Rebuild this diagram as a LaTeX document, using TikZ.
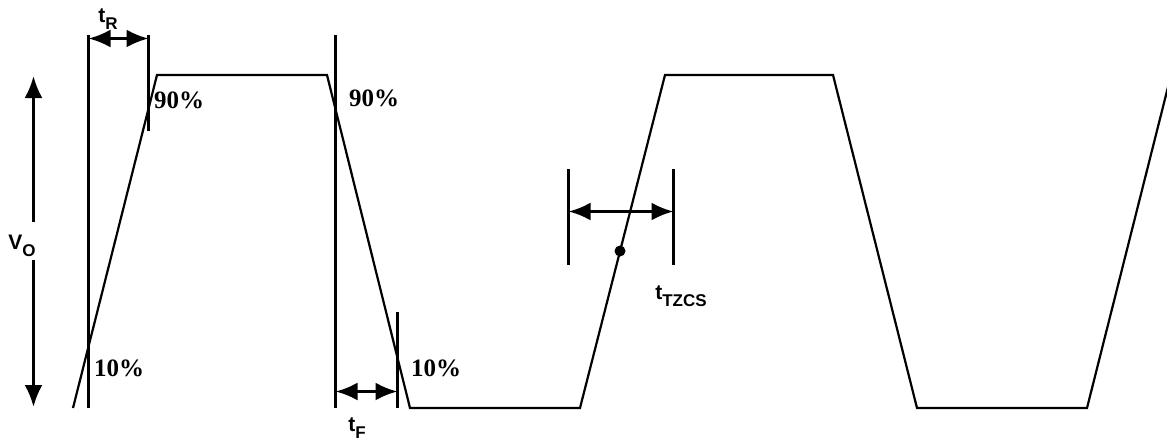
\documentclass[tikz,border=0pt]{standalone}
\usepackage{fontspec}
\setmainfont{Liberation Serif}
\setsansfont{Liberation Sans}
\usetikzlibrary{arrows.meta}

% symbol with a lowered subscript
\newcommand{\symsub}[2]{#1\raisebox{-0.32em}{\fontsize{17}{19}\selectfont #2}}

\begin{document}
\begin{tikzpicture}[
  x=1pt, y=-1pt,
  wave/.style={line width=2.2pt, line join=miter},
  marker/.style={line width=3pt},
  dim/.style={<->, >={Latex[length=22pt,width=18pt]}, line width=3pt},
  tip/.style={->, >={Latex[length=22pt,width=18pt]}, line width=3pt},
  pct/.style={font=\fontsize{25}{27}\selectfont\bfseries, inner sep=0pt},
  sym/.style={font=\fontsize{21}{23}\selectfont\sffamily\bfseries, inner sep=0pt}
]
  \useasboundingbox (0,0) rectangle (1167,444);
  % Output waveform
  \draw[wave] (73,408) -- (157,75) -- (327,75) -- (410,408) -- (580,408)
    -- (665,75) -- (833,75) -- (917,408) -- (1087,408) -- (1168,87);
  % Amplitude arrow
  \node[sym] (vo) at (22,246) {\symsub{V}{O}};
  \coordinate (voA) at (33.5,222);
  \coordinate (voB) at (33.5,260);
  \coordinate (votop) at (33.5,76);
  \coordinate (vobot) at (33.5,407);
  \draw[tip] (voA) -- (votop);
  \draw[tip] (voB) -- (vobot);
  % Rise time markers
  \coordinate (r1top) at (88.5,35);   \coordinate (r1bot) at (88.5,408);
  \coordinate (r2top) at (148.5,35);  \coordinate (r2bot) at (148.5,131);
  \draw[marker] (r1top) -- (r1bot);
  \draw[marker] (r2top) -- (r2bot);
  \coordinate (trL) at (88.5,38.5);  \coordinate (trR) at (148.5,38.5);
  \draw[dim] (trL) -- (trR);
  \node[sym] (tr) at (108,19) {\symsub{t}{R}};
  \node[pct] (p90a) at (179,100) {90\%};
  \node[pct] (p10a) at (119,368) {10\%};
  % Fall time markers
  \coordinate (f1top) at (335.5,35);  \coordinate (f1bot) at (335.5,408);
  \coordinate (f2top) at (397.5,312); \coordinate (f2bot) at (397.5,408);
  \draw[marker] (f1top) -- (f1bot);
  \draw[marker] (f2top) -- (f2bot);
  \coordinate (tfL) at (335.5,391.5);  \coordinate (tfR) at (397.5,391.5);
  \draw[dim] (tfL) -- (tfR);
  \node[sym] (tf) at (357,428) {\symsub{t}{F}};
  \node[pct] (p90b) at (374,98) {90\%};
  \node[pct] (p10b) at (436,368) {10\%};
  % Zero crossing markers
  \coordinate (z1top) at (568.5,169);  \coordinate (z1bot) at (568.5,265);
  \coordinate (z2top) at (673.5,169);  \coordinate (z2bot) at (673.5,265);
  \draw[marker] (z1top) -- (z1bot);
  \draw[marker] (z2top) -- (z2bot);
  \coordinate (tzL) at (568.5,211.5);  \coordinate (tzR) at (673.5,211.5);
  \draw[dim] (tzL) -- (tzR);
  \fill (620,251) circle (5.5pt);
  \node[sym] (tz) at (681,296) {\symsub{t}{TZCS}};
\end{tikzpicture}
\end{document}
